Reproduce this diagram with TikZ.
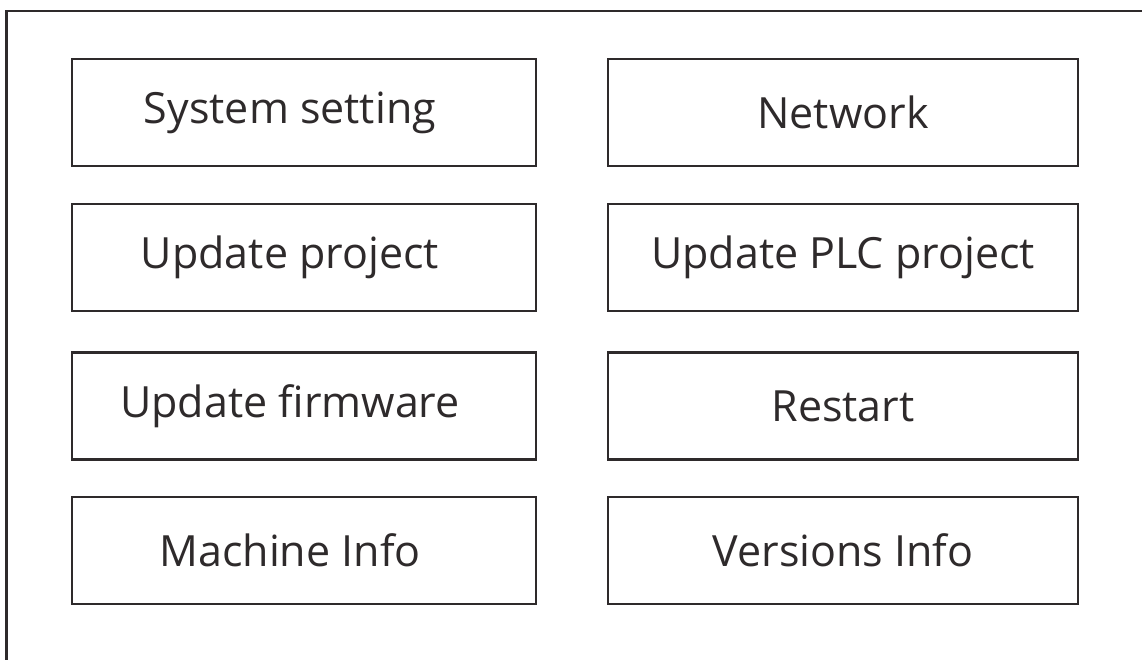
\documentclass[tikz,border=0pt]{standalone}
\usepackage{fontspec}
\setmainfont{Open Sans}
\definecolor{ink}{HTML}{2E2A2B}
\begin{document}
\begin{tikzpicture}[x=1pt,y=-1pt,
  menubox/.style={draw=ink, line width=2.6pt, minimum width=464pt, minimum height=107pt,
    inner sep=0pt, text=ink, font=\fontsize{43}{50}\selectfont},
  frame/.style={draw=ink, line width=2.6pt}]
\useasboundingbox (0,0) rectangle (1142,660);
\draw[frame] (6.5,660) -- (6.5,11) -- (1142,11);
% left column centre x = 304, right column centre x = 843
\node[menubox] (sys) at (304,112.5) {System setting\hspace*{28pt}};
\node[menubox, minimum width=470pt] (net) at (843,112.5) {Network};
\node[menubox] (upd) at (304,257.5) {Update project\hspace*{28pt}};
\node[menubox, minimum width=470pt] (plc) at (843,257.5) {Update PLC project};
\node[menubox] (fw) at (304,406) {Update firmware\hspace*{28pt}};
\node[menubox, minimum width=470pt] (rst) at (843,406) {Restart};
\node[menubox] (mach) at (304,550.5) {Machine Info\hspace*{28pt}};
\node[menubox, minimum width=470pt] (ver) at (843,550.5) {Versions Info};
\end{tikzpicture}
\end{document}
